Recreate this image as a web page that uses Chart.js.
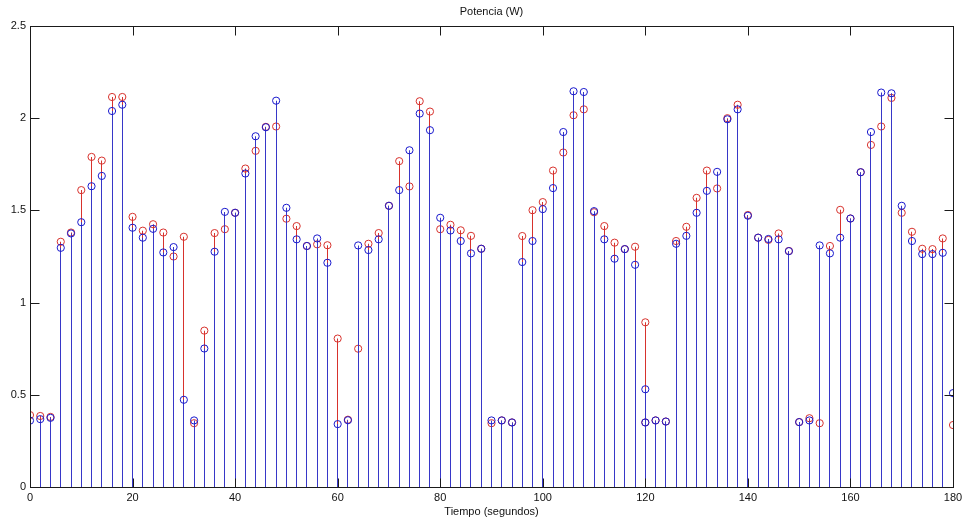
<!DOCTYPE html>
<html>
<head>
<meta charset="utf-8">
<script src="https://cdn.jsdelivr.net/npm/chart.js@4/dist/chart.umd.min.js"></script>
<style>
  html, body { margin: 0; padding: 0; background: #fff; }
  #wrap { width: 963px; height: 523px; }
</style>
</head>
<body>
<div id="wrap"><canvas id="grafico"></canvas></div>
<script>
// tiempo en segundos (120 aparece dos veces en la medida)
const tiempo = [
  0, 2, 4, 6, 8, 10, 12, 14, 16, 18, 20, 22, 24, 26, 28, 30, 32, 34, 36, 38,
  40, 42, 44, 46, 48, 50, 52, 54, 56, 58, 60, 62, 64, 66, 68, 70, 72, 74, 76, 78,
  80, 82, 84, 86, 88, 90, 92, 94, 96, 98, 100, 102, 104, 106, 108, 110, 112, 114, 116, 118,
  120, 120, 122, 124, 126, 128, 130, 132, 134, 136, 138, 140, 142, 144, 146, 148, 150, 152, 154, 156,
  158, 160, 162, 164, 166, 168, 170, 172, 174, 176, 178, 180
];

const potenciaRoja = [
  0.39, 0.385, 0.38, 1.33, 1.38, 1.61, 1.79, 1.77, 2.115, 2.115, 1.465, 1.39, 1.425, 1.38, 1.25, 1.357, 0.346, 0.848, 1.377, 1.398,
  1.487, 1.727, 1.823, 1.953, 1.955, 1.455, 1.415, 1.307, 1.316, 1.311, 0.805, 0.365, 0.75, 1.319, 1.377, 1.525, 1.767, 1.63, 2.092, 2.036,
  1.398, 1.422, 1.392, 1.362, 1.292, 0.346, 0.361, 0.35, 1.361, 1.501, 1.545, 1.716, 1.814, 2.016, 2.048, 1.49, 1.415, 1.325, 1.29, 1.303,
  0.893, 0.35, 0.361, 0.355, 1.334, 1.411, 1.568, 1.716, 1.619, 2.0, 2.073, 1.475, 1.352, 1.34, 1.375, 1.28, 0.352, 0.373, 0.346, 1.307,
  1.503, 1.456, 1.707, 1.855, 1.955, 2.11, 1.487, 1.384, 1.292, 1.29, 1.348, 0.336
];

const potenciaAzul = [
  0.36, 0.368, 0.375, 1.297, 1.375, 1.436, 1.631, 1.687, 2.039, 2.073, 1.406, 1.352, 1.40, 1.272, 1.301, 0.473, 0.361, 0.751, 1.276, 1.492,
  1.487, 1.70, 1.902, 1.951, 2.095, 1.514, 1.343, 1.307, 1.348, 1.216, 0.341, 0.362, 1.31, 1.285, 1.343, 1.525, 1.61, 1.826, 2.025, 1.935,
  1.46, 1.391, 1.334, 1.267, 1.292, 0.361, 0.361, 0.35, 1.22, 1.334, 1.507, 1.621, 1.925, 2.146, 2.142, 1.496, 1.343, 1.238, 1.29, 1.205,
  0.53, 0.35, 0.361, 0.355, 1.319, 1.362, 1.487, 1.606, 1.709, 1.994, 2.048, 1.471, 1.352, 1.345, 1.343, 1.279, 0.352, 0.361, 1.31, 1.267,
  1.352, 1.456, 1.707, 1.925, 2.139, 2.135, 1.525, 1.334, 1.263, 1.263, 1.27, 0.509
];

const ticksX = [0, 20, 40, 60, 80, 100, 120, 140, 160, 180];
const ticksY = [0, 0.5, 1, 1.5, 2, 2.5];

const fuente = { family: "'Liberation Sans', Arial, sans-serif", size: 11, weight: 'normal' };
const AZUL = 'rgb(25,25,205)';
const AZUL_TALLO = 'rgb(55,55,200)';
const ROJO = 'rgb(215,50,45)';

const puntos = serie => tiempo.map((t, i) => ({ x: t, y: serie[i] }));

// tallos de 1px nítidos: se ajusta la x de cada barra al centro del píxel
const tallosNitidos = {
  id: 'tallosNitidos',
  afterDatasetUpdate(chart, args) {
    if (args.meta.type !== 'bar') return;
    args.meta.data.forEach(el => { el.x = Math.round(el.x - 0.5) + 0.5; });
  }
};

// caja con marcas hacia dentro, como en matlab
const marcoMatlab = {
  id: 'marcoMatlab',
  afterDatasetsDraw(chart) {
    const { ctx, chartArea: a, scales } = chart;
    const L = 9;
    ctx.save();
    ctx.strokeStyle = '#1a1a1a';
    ctx.lineWidth = 1;
    const l = Math.round(a.left) + 0.5, r = Math.round(a.right) + 0.5;
    const t = Math.round(a.top) + 0.5, b = Math.round(a.bottom) + 0.5;
    ctx.strokeRect(l, t, r - l, b - t);
    ctx.beginPath();
    scales.x.ticks.forEach(tk => {
      const px = Math.round(scales.x.getPixelForValue(tk.value)) + 0.5;
      ctx.moveTo(px, b); ctx.lineTo(px, b - L);
      ctx.moveTo(px, t); ctx.lineTo(px, t + L);
    });
    scales.y.ticks.forEach(tk => {
      const py = Math.round(scales.y.getPixelForValue(tk.value)) + 0.5;
      ctx.moveTo(l, py); ctx.lineTo(l + L, py);
      ctx.moveTo(r, py); ctx.lineTo(r - L, py);
    });
    ctx.stroke();
    ctx.restore();
  }
};

new Chart(document.getElementById('grafico'), {
  type: 'bar',
  data: {
    datasets: [
      { type: 'scatter', data: puntos(potenciaAzul), borderColor: AZUL, backgroundColor: 'rgba(0,0,0,0)',
        pointRadius: 3.6, borderWidth: 1, showLine: false, order: 0 },
      { type: 'bar', data: puntos(potenciaAzul), backgroundColor: AZUL_TALLO, barThickness: 1,
        inflateAmount: 0, borderWidth: 0, grouped: false, order: 1 },
      { type: 'scatter', data: puntos(potenciaRoja), borderColor: ROJO, backgroundColor: 'rgba(0,0,0,0)',
        pointRadius: 3.6, borderWidth: 1, showLine: false, order: 2 },
      { type: 'bar', data: puntos(potenciaRoja), backgroundColor: ROJO, barThickness: 1,
        inflateAmount: 0, borderWidth: 0, grouped: false, order: 3 }
    ]
  },
  options: {
    responsive: true,
    maintainAspectRatio: false,
    animation: false,
    events: [],
    layout: { padding: { left: 0, right: 0, top: 0, bottom: 0 } },
    plugins: { legend: { display: false }, tooltip: { enabled: false }, title: { display: false } },
    scales: {
      x: {
        type: 'linear', position: 'bottom', min: 0, max: 180, offset: false,
        grid: { display: false, drawTicks: false }, border: { display: false },
        afterBuildTicks: s => { s.ticks = ticksX.map(v => ({ value: v })); },
        afterFit: s => { s.height = 36; s.paddingRight = 10; s.paddingLeft = 0; },
        ticks: { font: fuente, color: '#111', padding: 4, maxRotation: 0, callback: v => String(v) },
        title: { display: true, text: 'Tiempo (segundos)', font: fuente, color: '#111', padding: { top: 4, bottom: 4 } }
      },
      arriba: {
        type: 'linear', position: 'top', min: 0, max: 180,
        grid: { display: false, drawTicks: false }, border: { display: false },
        ticks: { display: false },
        afterFit: s => { s.height = 26; },
        title: { display: true, text: 'Potencia (W)', font: fuente, color: '#111', padding: { top: 5, bottom: 4 } }
      },
      y: {
        type: 'linear', position: 'left', min: 0, max: 2.5,
        grid: { display: false, drawTicks: false }, border: { display: false },
        afterBuildTicks: s => { s.ticks = ticksY.map(v => ({ value: v })); },
        afterFit: s => { s.width = 30; },
        ticks: { font: fuente, color: '#111', padding: 4, callback: v => String(v) }
      }
    }
  },
  plugins: [tallosNitidos, marcoMatlab]
});
</script>
</body>
</html>
